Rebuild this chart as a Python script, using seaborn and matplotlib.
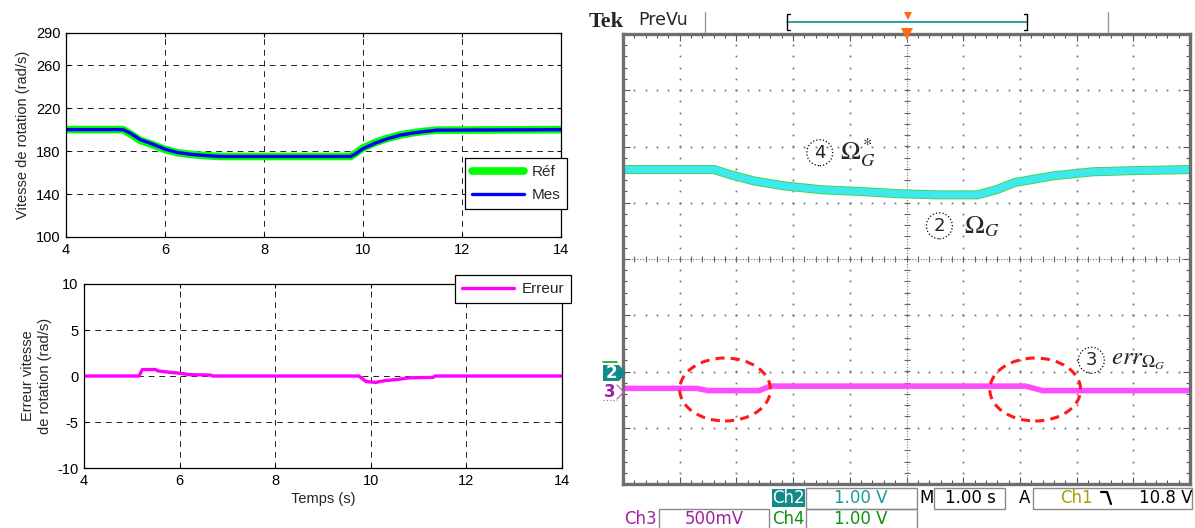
import matplotlib
matplotlib.use("Agg")
import matplotlib.pyplot as plt
import matplotlib.patches as mpatches
import matplotlib.lines as mlines
import numpy as np
import seaborn as sns

# ---- simulation (left) ----
sim_t = [4, 5.15, 5.3, 5.5, 5.75, 6.0, 6.25, 6.5, 6.75, 7.1, 9.75, 9.85, 10.0, 10.25,
         10.5, 10.75, 11.0, 11.25, 11.5, 14]
ref_speed = [200, 200, 196, 190, 186, 181.5, 178.5, 177, 176, 175, 175, 178, 183, 188,
             192, 195, 197, 198.5, 199.5, 200]
mes_speed = [200, 200, 196.7, 190.7, 186.5, 181.8, 178.7, 177.1, 176.1, 175, 175, 177.4, 182.3, 187.5,
             191.6, 194.8, 196.8, 198.3, 199.5, 200]

err_t = [4, 5.15, 5.22, 5.5, 5.55, 5.8, 6.0, 6.2, 6.65, 6.7, 9.75, 9.9, 10.1, 10.3,
         10.6, 10.8, 11.3, 11.35, 14]
err_speed = [0, 0, 0.7, 0.7, 0.55, 0.4, 0.3, 0.15, 0.1, 0, 0, -0.6, -0.7, -0.5,
             -0.35, -0.2, -0.15, 0, 0]

speed_ticks = [100, 140, 180, 220, 260, 290]
err_ticks = [-10, -5, 0, 5, 10]
time_ticks = [4, 6, 8, 10, 12, 14]

# ---- oscilloscope (right), time in s (1 s/div), level in divisions ----
scope_t = [-5.0, -3.39, -3.11, -2.70, -2.16, -1.49, -0.81, -0.12, 0.56, 1.25, 1.58,
           1.91, 2.60, 3.28, 3.96, 5.0]
ch2_div = [1.59, 1.59, 1.50, 1.39, 1.30, 1.23, 1.20, 1.16, 1.14, 1.14, 1.23,
           1.36, 1.48, 1.55, 1.57, 1.59]
ch3_t = [-5.0, -3.7, -3.5, -2.6, -2.4, 2.1, 2.4, 5.0]
ch3_div = [-2.30, -2.30, -2.34, -2.34, -2.26, -2.26, -2.34, -2.34]

W, H = 1195, 528


def fx(x):
    return x / W


def fy(y):
    return 1 - y / H


def axes_rect(x0, y0, x1, y1):
    return [fx(x0), fy(y1), fx(x1) - fx(x0), fy(y0) - fy(y1)]


sns.set_theme(style="white")
plt.rcParams["font.family"] = ["Liberation Sans", "DejaVu Sans"]
plt.rcParams["mathtext.fontset"] = "stix"
plt.rcParams["axes.unicode_minus"] = False

fig = plt.figure(figsize=(W / 100, H / 100), dpi=100)
fig.patch.set_facecolor("white")


def matlab_axes(ax):
    ax.set_facecolor("white")
    for s in ax.spines.values():
        s.set_color("black")
        s.set_linewidth(0.9)
    ax.tick_params(direction="in", length=3, width=0.8, labelsize=10.5, colors="black",
                   top=True, right=True, bottom=True, left=True, pad=4)
    ax.grid(True, color="#222222", linestyle=(0, (6, 5)), linewidth=0.7)


# top-left: speed
ax1 = fig.add_axes(axes_rect(66, 33, 561, 237))
sns.lineplot(x=sim_t, y=ref_speed, ax=ax1, color="#00ff00", linewidth=5.5, label="Réf")
sns.lineplot(x=sim_t, y=mes_speed, ax=ax1, color="#0000ff", linewidth=2.4, label="Mes")
ax1.set_xlim(4, 14)
ax1.set_ylim(100, 290)
ax1.set_xticks(time_ticks)
ax1.set_yticks(speed_ticks)
ax1.set_xlabel("")
ax1.set_ylabel("Vitesse de rotation (rad/s)", fontsize=10.5)
matlab_axes(ax1)
leg = ax1.legend(loc="lower right", bbox_to_anchor=(1.012, 0.137), fontsize=11, frameon=True,
                 fancybox=False, edgecolor="black", framealpha=1, handlelength=3.4,
                 borderpad=0.45, labelspacing=0.6, handletextpad=0.5, borderaxespad=0)
leg.get_frame().set_linewidth(0.9)

# bottom-left: error
ax2 = fig.add_axes(axes_rect(84, 284, 562, 468))
sns.lineplot(x=err_t, y=err_speed, ax=ax2, color="#ff00ff", linewidth=2.4, label="Erreur")
ax2.set_xlim(4, 14)
ax2.set_ylim(-10, 10)
ax2.set_xticks(time_ticks)
ax2.set_yticks(err_ticks)
ax2.set_xlabel("Temps (s)", fontsize=10.5, labelpad=3)
ax2.set_ylabel("Erreur vitesse\nde rotation (rad/s)", fontsize=10.5)
matlab_axes(ax2)
leg2 = ax2.legend(loc="upper right", bbox_to_anchor=(1.019, 1.049), fontsize=11, frameon=True,
                  fancybox=False, edgecolor="black", framealpha=1, handlelength=3.4,
                  borderpad=0.45, handletextpad=0.5, borderaxespad=0)
leg2.get_frame().set_linewidth(0.9)

# right: oscilloscope screen
ax3 = fig.add_axes(axes_rect(623, 34, 1190, 484))
ax3.set_facecolor("white")
ax3.set_xlim(-5, 5)
ax3.set_ylim(-4, 4)
for s in ax3.spines.values():
    s.set_color("#6e6e6e")
    s.set_linewidth(2.4)
ax3.set_xticks(np.arange(-5, 6, 1))
ax3.set_yticks(np.arange(-4, 5, 1))
ax3.set_xticks(np.arange(-5, 5.01, 0.2), minor=True)
ax3.set_yticks(np.arange(-4, 4.01, 0.2), minor=True)
ax3.tick_params(which="both", direction="in", top=True, right=True, bottom=True, left=True,
                labelbottom=False, labelleft=False, color="#555555", width=0.8)
ax3.tick_params(which="major", length=5)
ax3.tick_params(which="minor", length=3)

dot_kw = dict(linestyle="none", marker="s", markersize=1.3, color="#777777", markeredgewidth=0)
fine_x = np.arange(-5, 5.01, 0.2)
fine_y = np.arange(-4, 4.01, 0.2)
for gx in range(-4, 5):
    if gx != 0:
        ax3.plot(np.full(fine_y.size, gx), fine_y, **dot_kw)
for gy in range(-3, 4):
    if gy != 0:
        ax3.plot(fine_x, np.full(fine_x.size, gy), **dot_kw)
ax3.plot([-5, 5], [0, 0], color="#777777", linestyle=(0, (1, 1.5)), linewidth=0.8)
ax3.plot([0, 0], [-4, 4], color="#777777", linestyle=(0, (1, 1.5)), linewidth=0.8)
ax3.plot(fine_x, np.zeros(fine_x.size), linestyle="none", marker="|", markersize=5,
         color="#666666", markeredgewidth=0.8)
ax3.plot(np.zeros(fine_y.size), fine_y, linestyle="none", marker="_", markersize=5,
         color="#666666", markeredgewidth=0.8)

sns.lineplot(x=scope_t, y=ch2_div, ax=ax3, color="#3cd23c", linewidth=6.5, legend=False)
sns.lineplot(x=scope_t, y=ch2_div, ax=ax3, color="#3fe8ec", linewidth=5.3, legend=False)
sns.lineplot(x=ch3_t, y=ch3_div, ax=ax3, color="#ff4cff", linewidth=4, legend=False)
ax3.set_xlim(-5, 5)
ax3.set_ylim(-4, 4)

# trigger marker
ax3.plot([0], [4.0], marker="v", markersize=9, color="#ff6a10", clip_on=False, zorder=5,
         markeredgewidth=0)

# dashed ellipses
for cx in (-3.2, 2.27):
    ax3.add_patch(mpatches.Ellipse((cx, -2.32), 1.6, 1.12, fill=False, edgecolor="#ff1a1a",
                                   linestyle=(0, (3, 2)), linewidth=2.2, zorder=6))

circ = dict(boxstyle="circle,pad=0.22", fc="none", ec="black", ls=":", lw=0.9)
ax3.text(-1.53, 1.89, "4", fontsize=13, ha="center", va="center", bbox=circ,
         family="DejaVu Sans")
ax3.text(-1.17, 1.89, r"$\Omega_G^*$", fontsize=19, ha="left", va="center")
ax3.text(0.58, 0.59, "2", fontsize=13, ha="center", va="center", bbox=circ,
         family="DejaVu Sans")
ax3.text(1.02, 0.57, r"$\Omega_G$", fontsize=19, ha="left", va="center")
ax3.text(3.26, -1.8, "3", fontsize=13, ha="center", va="center", bbox=circ,
         family="DejaVu Sans")
ax3.text(3.6, -1.8, r"$err_{\Omega_G}$", fontsize=18, ha="left", va="center")

# ---- scope header ----
fig.text(fx(589), fy(22), "Tek", fontsize=16, fontweight="bold", family="Liberation Serif",
         va="center", ha="left")
fig.text(fx(638), fy(20), "PreVu", fontsize=12.5, family="DejaVu Sans", va="center", ha="left")
for xs in (705, 1108):
    fig.add_artist(mlines.Line2D([fx(xs), fx(xs)], [fy(12), fy(32)], color="#9a9a9a", lw=1))
fig.add_artist(mlines.Line2D([fx(787), fx(1027)], [fy(22), fy(22)], color="#0f8f8f", lw=1.2))
fig.add_artist(mlines.Line2D([fx(790), fx(787), fx(787), fx(790)],
                             [fy(14), fy(14), fy(30), fy(30)], color="black", lw=1))
fig.add_artist(mlines.Line2D([fx(1024), fx(1027), fx(1027), fx(1024)],
                             [fy(14), fy(14), fy(30), fy(30)], color="black", lw=1))
fig.add_artist(mlines.Line2D([fx(908)], [fy(16)], marker="v", markersize=6, color="#ff6a10",
                             markeredgewidth=0))

# channel markers at left of screen
fig.add_artist(mpatches.Polygon([(fx(603), fy(365)), (fx(619), fy(365)), (fx(626), fy(373)),
                                 (fx(619), fy(381)), (fx(603), fy(381))],
                                closed=True, fc="#128a8a", ec="none"))
fig.add_artist(mlines.Line2D([fx(603), fx(617)], [fy(362), fy(362)], color="#19a019", lw=1.2))
fig.text(fx(611), fy(373), "2", color="white", fontsize=12, fontweight="bold", ha="center",
         va="center", family="DejaVu Sans")
fig.text(fx(610), fy(392), "3", color="#a020a0", fontsize=12, fontweight="bold", ha="center",
         va="center", family="DejaVu Sans")
fig.add_artist(mlines.Line2D([fx(617), fx(624), fx(617)], [fy(385), fy(392), fy(399)],
                             color="#c060c0", lw=0.9))
fig.add_artist(mlines.Line2D([fx(603), fx(617)], [fy(400), fy(400)], color="#c060c0", lw=0.9,
                             linestyle=":"))


# ---- scope status line ----
def fig_box(x0, y0, x1, y1, fc="none", ec="#8a8a8a"):
    fig.add_artist(mpatches.Rectangle((fx(x0), fy(y1)), fx(x1) - fx(x0), fy(y0) - fy(y1),
                                      transform=fig.transFigure, fc=fc, ec=ec, lw=1))


def status_text(x, y, s, color, ha="center"):
    fig.text(fx(x), fy(y), s, color=color, fontsize=12, ha=ha, va="center",
             family="DejaVu Sans")


fig_box(772, 489, 805, 507, fc="#128a8a", ec="none")
status_text(788, 498, "Ch2", "white")
fig_box(806, 488, 917, 509)
status_text(861, 498, "1.00 V", "#1a9a9a")
status_text(927, 498, "M", "black")
fig_box(934, 488, 1005, 509)
status_text(970, 498, "1.00 s", "black")
status_text(1025, 498, "A", "black")
fig_box(1033, 488, 1192, 509)
status_text(1076, 498, "Ch1", "#a8a000")
fig.add_artist(mlines.Line2D([fx(1101), fx(1107), fx(1111)], [fy(492), fy(492), fy(504)],
                             color="black", lw=1.6))
status_text(1166, 498, "10.8 V", "black")

status_text(640, 519, "Ch3", "#a020a0")
fig_box(659, 509, 769, 529)
status_text(714, 519, "500mV", "#a020a0")
status_text(788, 519, "Ch4", "#139013")
fig_box(806, 509, 917, 529)
status_text(861, 519, "1.00 V", "#139013")

fig.savefig("out.png", dpi=100)
